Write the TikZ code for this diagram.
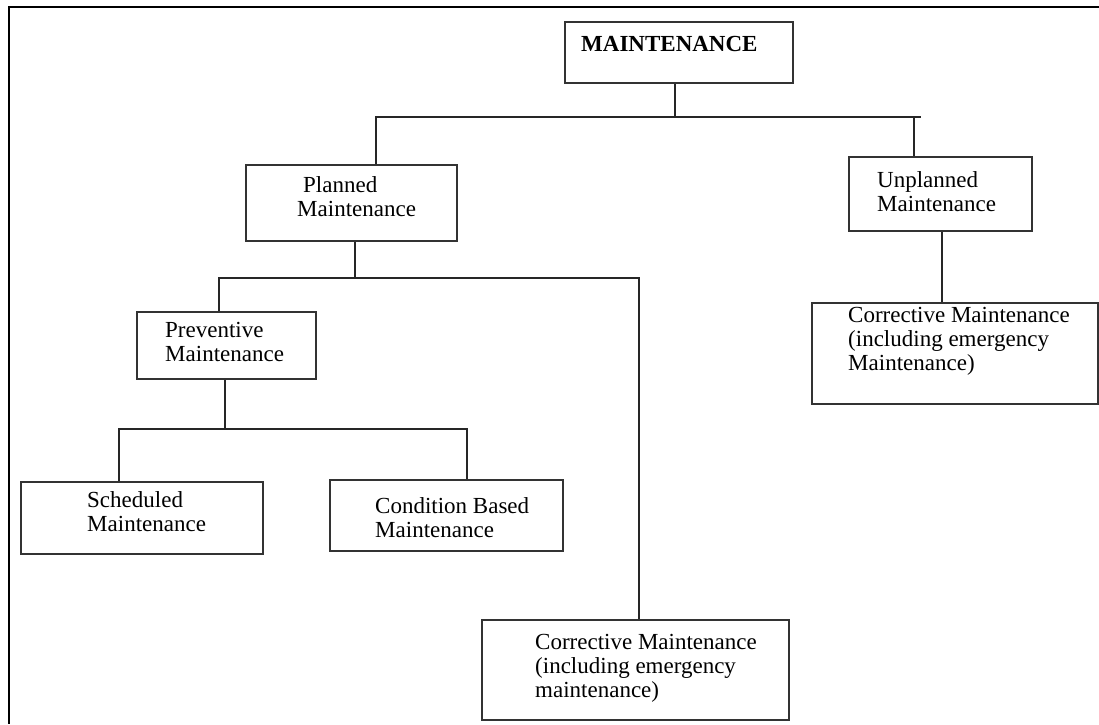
\documentclass[tikz,border=0pt]{standalone}
\usepackage{fontspec}
\setmainfont{Liberation Serif}
\newcommand\twolines[2]{\vtop{\hbox{#1}\hbox{#2}}}
\newcommand\threelines[3]{\vtop{\hbox{#1}\hbox{#2}\hbox{#3}}}
\begin{document}
\begin{tikzpicture}[x=1pt,y=-1pt,
  box/.style={draw=black!80, line width=1.8pt, rectangle, inner sep=0pt, anchor=north west},
  txt/.style={inner sep=0pt, anchor=base west, font=\fontsize{23}{24}\selectfont},
  link/.style={draw=black!85, line width=1.6pt},
  frame/.style={draw=black, line width=2.6pt}]
\useasboundingbox (0,0) rectangle (1099,724);
\fill[white] (0,0) rectangle (1099,724);
\draw[frame] (1099,7) -- (9,7) -- (9,724);

% boxes
\node[box, minimum width=228pt, minimum height=61pt]  (maint)     at (564,21)  {};
\node[box, minimum width=211pt, minimum height=76pt]  (planned)   at (245,164) {};
\node[box, minimum width=183pt, minimum height=74pt]  (unplanned) at (848,156) {};
\node[box, minimum width=286pt, minimum height=101pt] (corrR)     at (811,302) {};
\node[box, minimum width=179pt, minimum height=67pt]  (prev)      at (136,311) {};
\node[box, minimum width=242pt, minimum height=72pt]  (sched)     at (20,481)  {};
\node[box, minimum width=233pt, minimum height=71pt]  (cond)      at (329,479) {};
\node[box, minimum width=307pt, minimum height=100pt] (corrB)     at (481,619) {};

% texts
\node[txt] (tmaint) at (581,51) {\bfseries MAINTENANCE};
\node[txt] (tplanned) at (297,192) {\twolines{\kern6pt Planned}{Maintenance}};
\node[txt] (tunplanned) at (877,187) {\twolines{Unplanned}{Maintenance}};
\node[txt] (tcorrR) at (848,322) {\threelines{Corrective Maintenance}{(including emergency}{Maintenance)}};
\node[txt] (tprev) at (165,337) {\twolines{Preventive}{Maintenance}};
\node[txt] (tsched) at (87,507) {\twolines{Scheduled}{Maintenance}};
\node[txt] (tcond) at (375,513) {\twolines{Condition Based}{Maintenance}};
\node[txt] (tcorrB) at (535,649) {\threelines{Corrective Maintenance}{(including emergency}{maintenance)}};

% junction coordinates
\coordinate (b1L) at (376,117);
\coordinate (b1M) at (675,117);
\coordinate (b1U) at (914,117);
\coordinate (b1R) at (921,117);
\coordinate (b2L) at (219,278);
\coordinate (b2M) at (355,278);
\coordinate (b2R) at (639,278);
\coordinate (b3L) at (119,429);
\coordinate (b3M) at (225,429);
\coordinate (b3R) at (467,429);
\coordinate (uX)  at (942,266);

% connectors
\draw[link] (maint.south -| b1M) -- (b1M);
\draw[link] (planned.north -| b1L) -- (b1L) -- (b1R);
\draw[link] (b1U) -- (b1U |- unplanned.north);
\draw[link] (unplanned.south -| uX) -- (uX |- corrR.north);

\draw[link] (planned.south -| b2M) -- (b2M);
\draw[link] (prev.north -| b2L) -- (b2L) -- (b2R) -- (b2R |- corrB.north);

\draw[link] (prev.south -| b3M) -- (b3M);
\draw[link] (sched.north -| b3L) -- (b3L) -- (b3R) -- (b3R |- cond.north);
\end{tikzpicture}
\end{document}
